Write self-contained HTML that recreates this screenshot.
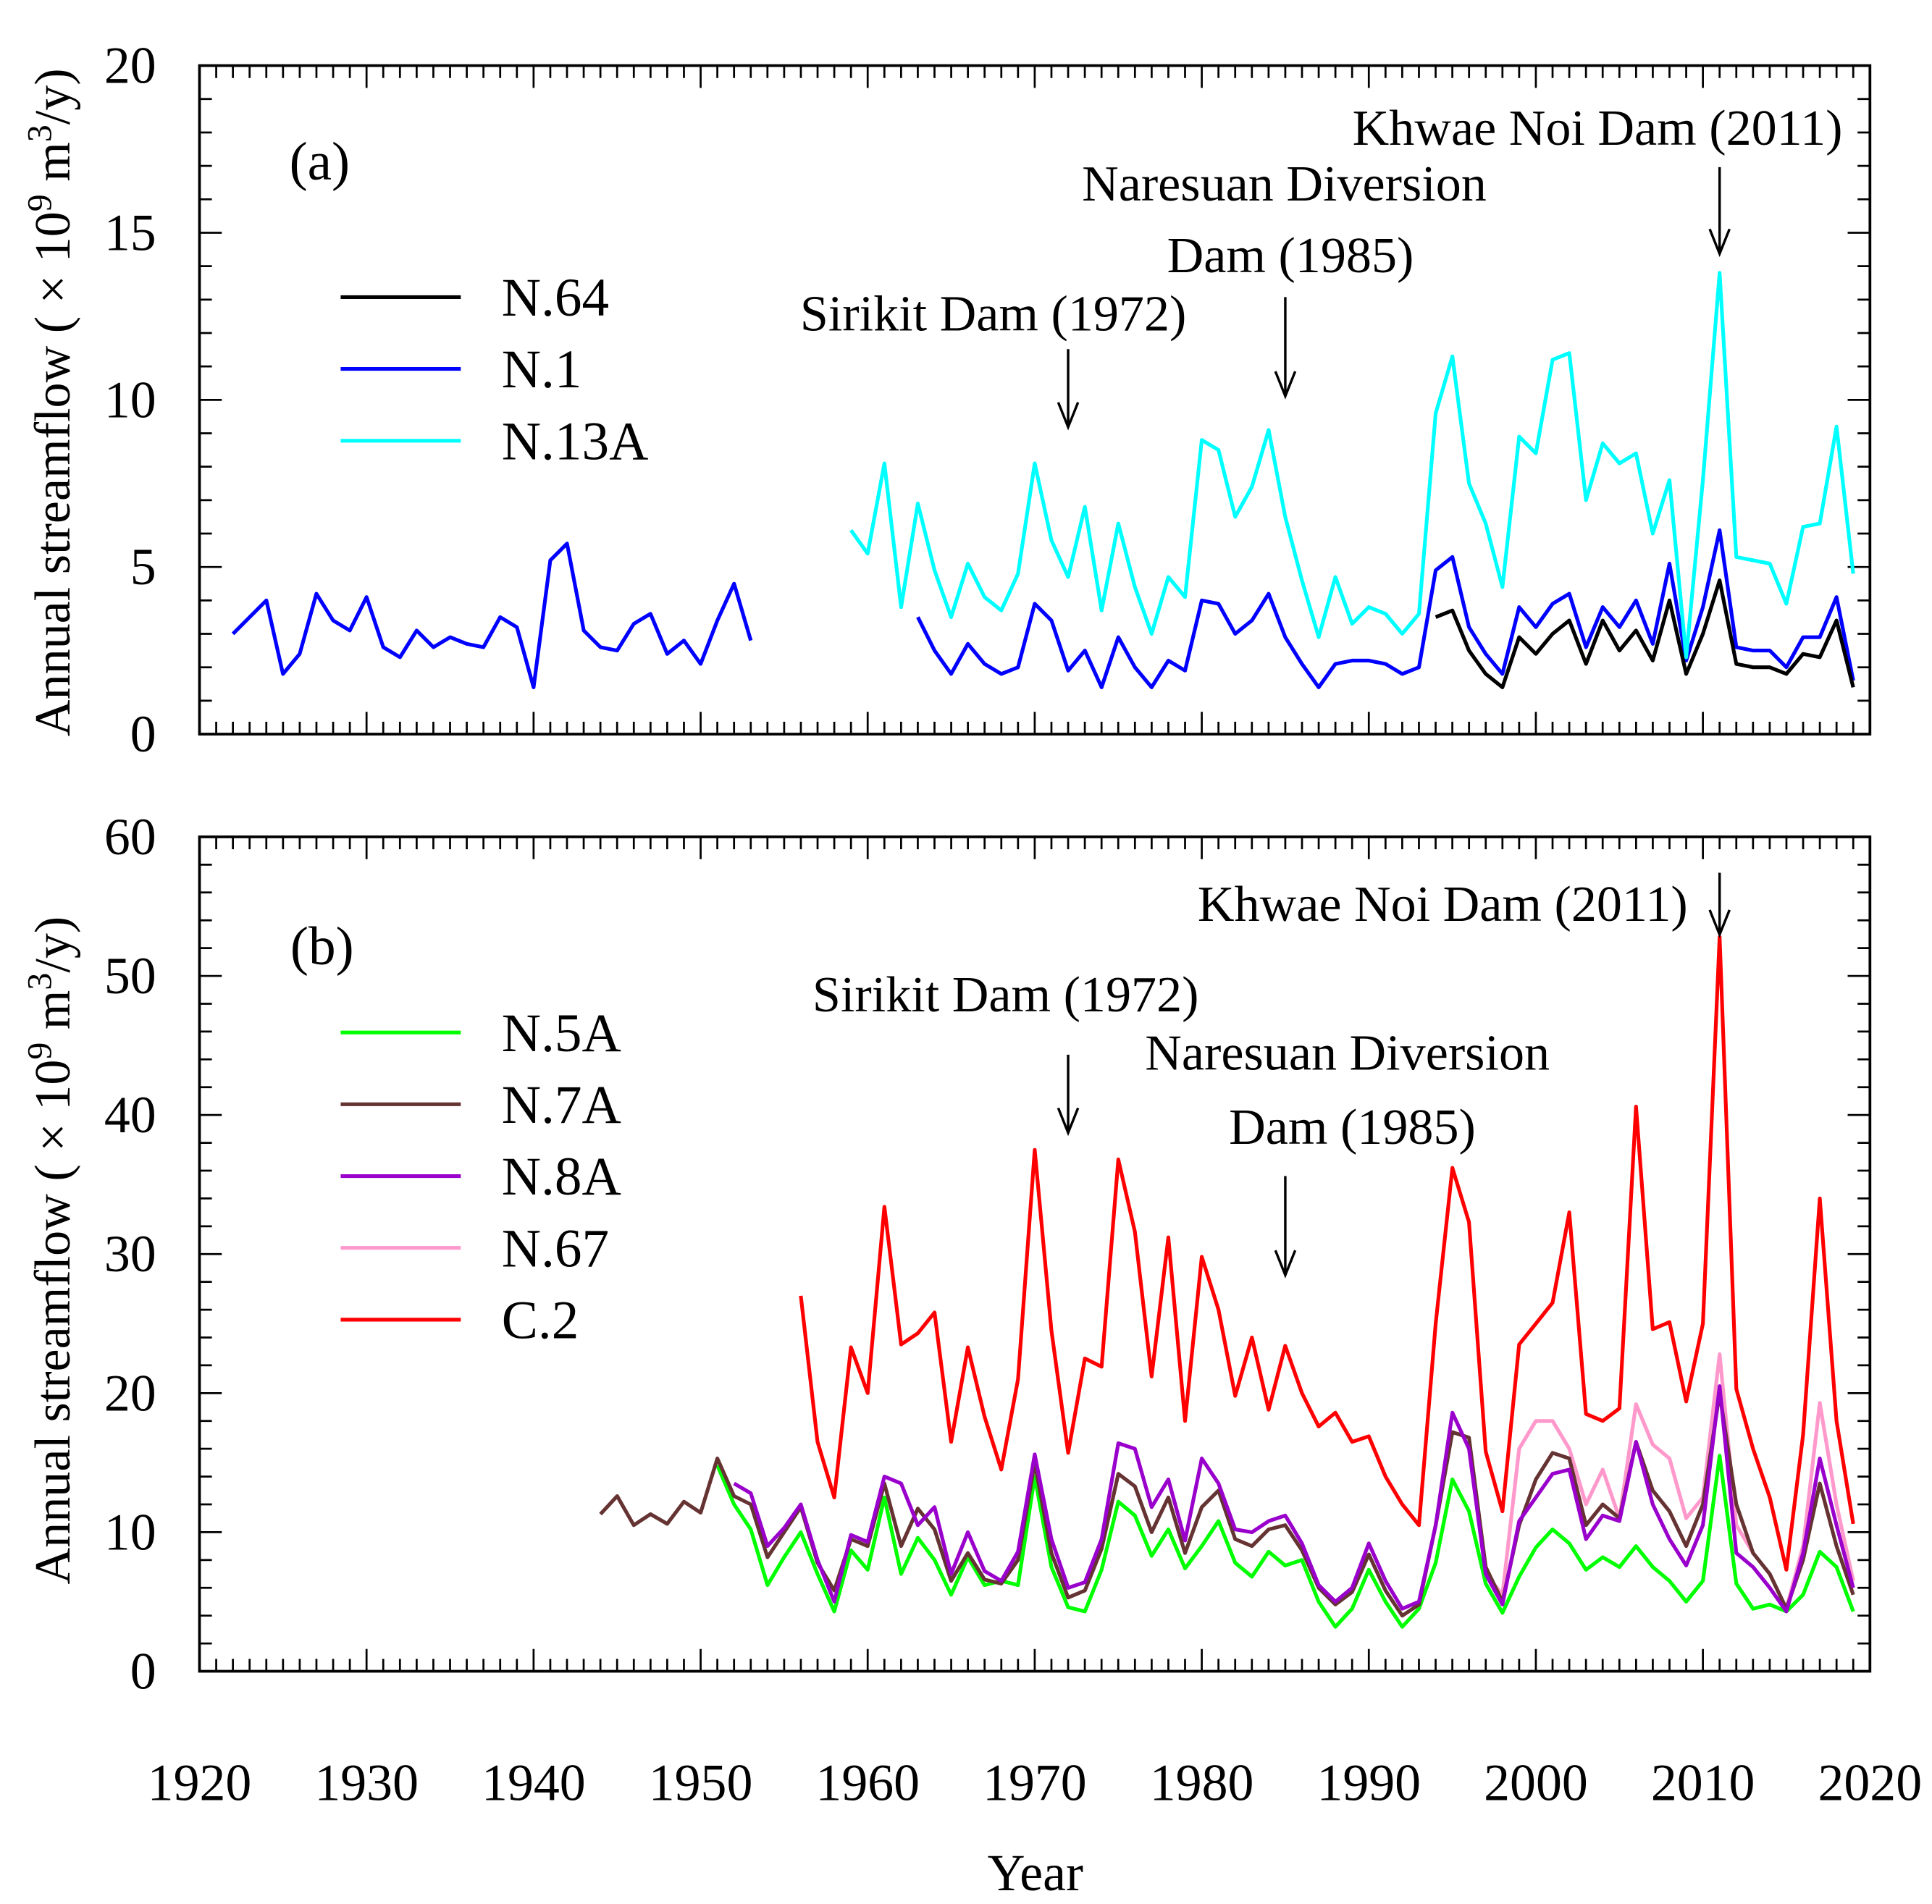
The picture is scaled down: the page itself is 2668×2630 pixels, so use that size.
<!DOCTYPE html>
<html><head><meta charset="utf-8"><style>
html,body{margin:0;padding:0;background:#fff;}
svg{display:block;font-family:"Liberation Serif",serif;}
</style></head><body>
<svg id="chart" width="2668" height="2630" viewBox="0 0 1560 1538" xmlns="http://www.w3.org/2000/svg"></svg>
<script>
// ---- data ----
const yearsN1a = [1922,1953];
const valsN1a = [3.0,3.5,4.0,1.8,2.4,4.2,3.4,3.1,4.1,2.6,2.3,3.1,2.6,2.9,2.7,2.6,3.5,3.2,1.4,5.2,5.7,3.1,2.6,2.5,3.3,3.6,2.4,2.8,2.1,3.4,4.5,2.8];
const yearsN1b = [1963,2019];
const valsN1b = [3.5,2.5,1.8,2.7,2.1,1.8,2.0,3.9,3.4,1.9,2.5,1.4,2.9,2.0,1.4,2.2,1.9,4.0,3.9,3.0,3.4,4.2,2.9,2.1,1.4,2.1,2.2,2.2,2.1,1.8,2.0,4.9,5.3,3.2,2.4,1.8,3.8,3.2,3.9,4.2,2.6,3.8,3.2,4.0,2.7,5.1,2.2,3.8,6.1,2.6,2.5,2.5,2.0,2.9,2.9,4.1,1.6];
const yearsN64 = [1994,2019];
const valsN64 = [3.5,3.7,2.5,1.8,1.4,2.9,2.4,3.0,3.4,2.1,3.4,2.5,3.1,2.2,4.0,1.8,3.0,4.6,2.1,2.0,2.0,1.8,2.4,2.3,3.4,1.4];
const yearsN13A = [1959,2019];
const valsN13A = [6.1,5.4,8.1,3.8,6.9,4.9,3.5,5.1,4.1,3.7,4.8,8.1,5.8,4.7,6.8,3.7,6.3,4.4,3.0,4.7,4.1,8.8,8.5,6.5,7.4,9.1,6.5,4.6,2.9,4.7,3.3,3.8,3.6,3.0,3.6,9.6,11.3,7.5,6.3,4.4,8.9,8.4,11.2,11.4,7.0,8.7,8.1,8.4,6.0,7.6,2.3,7.6,13.8,5.3,5.2,5.1,3.9,6.2,6.3,9.2,4.8];
const yearsC2 = [1956,2019];
const valsC2 = [27,16.5,12.5,23.3,20,33.4,23.5,24.3,25.8,16.5,23.3,18.3,14.5,21,37.5,24.5,15.7,22.5,21.9,36.8,31.6,21.2,31.2,18,29.8,26,19.8,24,18.8,23.4,20,17.6,18.6,16.5,16.9,14,12,10.5,25,36.2,32.3,15.8,11.5,23.5,25,26.5,33,18.5,18,18.9,40.6,24.6,25.1,19.4,25,52.8,20.3,16,12.5,7.3,17,34,18,10.6];
const yearsN7A = [1944,2019];
const valsN7A = [11.3,12.6,10.5,11.3,10.6,12.2,11.4,15.3,12.6,12,8.2,10,11.8,7.8,5.8,9.5,9,13.5,9,11.7,10.2,6.5,8.5,6.6,6.3,8,15,8.5,5.3,5.8,8.8,14.2,13.3,10,12.5,8.5,11.8,13,9.5,9,10.2,10.5,8.7,6,4.8,5.7,8.4,5.8,4,4.8,10.5,17.2,16.8,7.5,5,10.5,13.8,15.7,15.3,10.5,12,11,16.5,13,11.5,9,12,20,12,8.5,7,4.5,8,13.5,9,5.5];
const yearsN8A = [1952,2019];
const valsN8A = [13.5,12.8,9,10.3,12,8,5,9.8,9.3,14,13.5,10.5,11.8,7,10,7.2,6.5,8.6,15.6,9.5,6,6.4,9.5,16.4,16,11.8,13.8,9.4,15.3,13.5,10.2,10,10.8,11.2,9.2,6.2,5,6,9.2,6.5,4.5,5,10.5,18.6,16,7,4.8,10.8,12.5,14.2,14.5,9.5,11.2,10.8,16.5,12,9.5,7.6,10.5,20.5,8.5,7.5,6,4.3,8.5,15.3,10.5,6];
const yearsN67 = [1997,2019];
const valsN67 = [7,5.5,16,18,18,16,12,14.5,11,19.2,16.3,15.3,11,12.5,22.8,10.5,8.5,7,4.5,9,19.3,12,6.5];
const yearsN5A = [1951,2019];
const valsN5A = [14.8,12,10.2,6.2,8.2,10,7,4.3,8.7,7.3,12.5,7,9.6,8,5.5,8.2,6.2,6.5,6.2,14,7.5,4.6,4.3,7.3,12.2,11.2,8.3,10.2,7.4,9,10.8,7.8,6.8,8.6,7.6,8,5,3.2,4.5,7.3,5,3.2,4.5,7.8,13.8,11.5,6.3,4.2,6.8,8.9,10.2,9.2,7.3,8.2,7.5,9,7.5,6.5,5,6.5,15.5,6.3,4.5,4.8,4.3,5.5,8.6,7.5,4.3];
const xTicks = [1920,1930,1940,1950,1960,1970,1980,1990,2000,2010,2020];
const yTicksA = [0,5,10,15,20];
const yTicksB = [0,10,20,30,40,50,60];

// ---- layout ----
const NS="http://www.w3.org/2000/svg";
const svg=document.getElementById('chart');
const X0=161,X1=1510;
const xs=y=>X0+(y-1920)*(X1-X0)/100;
const pa={top:53,bot:593,max:20}, pb={top:676,bot:1350,max:60};
const ys=(p,v)=>p.bot-v*(p.bot-p.top)/p.max;
function el(tag,attrs,parent){const e=document.createElementNS(NS,tag);for(const k in attrs)e.setAttribute(k,attrs[k]);(parent||svg).appendChild(e);return e;}
function txt(s,x,y,size,anchor,parent){const t=el('text',{x:x,y:y,'font-size':size,'text-anchor':anchor||'middle',fill:'#000'},parent);t.textContent=s;return t;}

function panel(p,name,yt,minorStep){
  const g=el('g',{});
  
  
  el('rect',{x:X0,y:p.top,width:X1-X0,height:p.bot-p.top,fill:'none',stroke:'#000','stroke-width':2.2},g);
  for(let yr=1920;yr<=2020;yr++){
    const L=(yr%10===0)?18:10, x=xs(yr);
    el('line',{x1:x,y1:p.bot,x2:x,y2:p.bot-L,stroke:'#000','stroke-width':1.6},g);
    el('line',{x1:x,y1:p.top,x2:x,y2:p.top+L,stroke:'#000','stroke-width':1.6},g);
  }
  for(let v=0;v<=p.max+1e-9;v+=minorStep){
    const major=yt.some(t=>Math.abs(t-v)<1e-9), L=major?18:10, y=ys(p,v);
    el('line',{x1:X0,y1:y,x2:X0+L,y2:y,stroke:'#000','stroke-width':1.6},g);
    el('line',{x1:X1,y1:y,x2:X1-L,y2:y,stroke:'#000','stroke-width':1.6},g);
  }
  yt.forEach(v=>{const t=txt(String(v),126,ys(p,v)+14,42,'end',g);
    
    });
  return g;
}
panel(pa,'panel-a-axes',yTicksA,1);
panel(pb,'panel-b-axes',yTicksB,2);

function series(p,yrs,vals,color,name){
  const pts=vals.map((v,i)=>xs(yrs[0]+i).toFixed(1)+','+ys(p,v).toFixed(1)).join(' ');
  const l=el('polyline',{points:pts,fill:'none',stroke:color,'stroke-width':3,'stroke-linejoin':'round'});
  
  
}
series(pa,yearsN1a,valsN1a,'#0000ff','series-n1-early');
series(pa,yearsN1b,valsN1b,'#0000ff','series-n1');
series(pa,yearsN64,valsN64,'#000000','series-n64');
series(pa,yearsN13A,valsN13A,'#00ffff','series-n13a');
series(pb,yearsC2,valsC2,'#ff0000','series-c2');
series(pb,yearsN67,valsN67,'#ff99cc','series-n67');
series(pb,yearsN5A,valsN5A,'#00ff00','series-n5a');
series(pb,yearsN7A,valsN7A,'#663333','series-n7a');
series(pb,yearsN8A,valsN8A,'#9900cc','series-n8a');

// x tick labels
xTicks.forEach(yr=>{const t=txt(String(yr),xs(yr),1454,42);
  
  });
const xt=txt('Year',836,1527,42);



// y titles
function ytitle(cy,name){
  const t=el('text',{x:0,y:0,'font-size':41,'text-anchor':'middle',transform:'translate(56,'+cy+') rotate(-90)'});
  
  
  t.innerHTML='Annual streamflow ( × 10<tspan dy="-15" font-size="28">9</tspan><tspan dy="15"> m</tspan><tspan dy="-15" font-size="28">3</tspan><tspan dy="15">/y)</tspan>';
}
ytitle(325,'y-axis-title-a');
ytitle(1010,'y-axis-title-b');

// panel labels
let t=txt('(a)',258,145,44);
t=txt('(b)',260,779,44);

// legends
function legend(items,y0,name){
  items.forEach((it,i)=>{const y=y0+i*58;
    const g=el('g',{});
    
    
    el('line',{x1:275,y1:y,x2:372,y2:y,stroke:it[1],'stroke-width':3},g);
    txt(it[0],405,y+15,44,'start',g);});
}
legend([['N.64','#000'],['N.1','#0000ff'],['N.13A','#00ffff']],240,'legend-entry');
legend([['N.5A','#00ff00'],['N.7A','#663333'],['N.8A','#9900cc'],['N.67','#ff99cc'],['C.2','#ff0000']],834,'legend-entry');

// annotations
function arrow(x,y1,y2,name){
  const g=el('g',{});
  
  
  el('line',{x1:x,y1:y1,x2:x,y2:y2,stroke:'#000','stroke-width':2},g);
  el('polyline',{points:(x-8)+','+(y2-20)+' '+x+','+y2+' '+(x+8)+','+(y2-20),fill:'none',stroke:'#000','stroke-width':2},g);
}
function note(s,x,y,name){const n=txt(s,x,y,41);}
note('Khwae Noi Dam (2011)',1290,117,'annotation-khwae-noi-a');
note('Naresuan Diversion',1037,162,'annotation-naresuan-a');
note('Dam (1985)',1042,220,'annotation-naresuan-a2');
note('Sirikit Dam (1972)',802,267,'annotation-sirikit-a');
arrow(xs(2011),135,205,'arrow-khwae-noi-a');
arrow(xs(1985),240,320,'arrow-naresuan-a');
arrow(xs(1972),282,345,'arrow-sirikit-a');
note('Khwae Noi Dam (2011)',1165,744,'annotation-khwae-noi-b');
note('Sirikit Dam (1972)',812,817,'annotation-sirikit-b');
note('Naresuan Diversion',1088,864,'annotation-naresuan-b');
note('Dam (1985)',1092,924,'annotation-naresuan-b2');
arrow(xs(2011),705,755,'arrow-khwae-noi-b');
arrow(xs(1972),852,915,'arrow-sirikit-b');
arrow(xs(1985),950,1030,'arrow-naresuan-b');
</script>
</body></html>
